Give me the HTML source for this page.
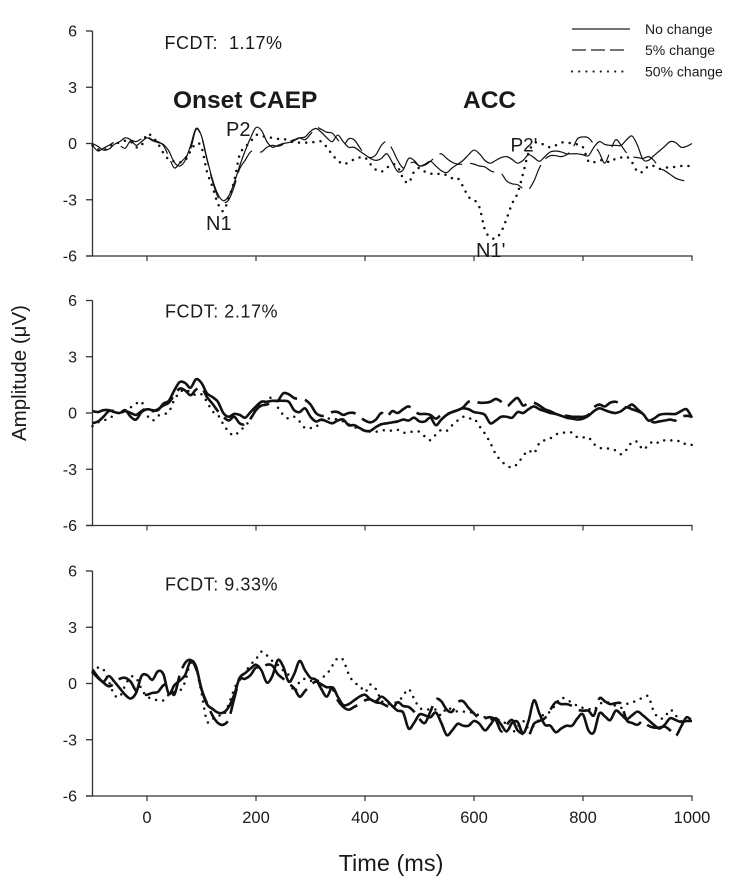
<!DOCTYPE html>
<html lang="en">
<head>
<meta charset="utf-8">
<title>FCDT evoked potentials</title>
<style>
html,body{margin:0;padding:0;background:#fff;width:732px;height:891px;overflow:hidden}
svg{display:block}
text{font-family:"Liberation Sans",Arial,sans-serif;fill:#1a1a1a}
</style>
</head>
<body>
<svg id="chart" xmlns="http://www.w3.org/2000/svg" width="732" height="891" viewBox="0 0 732 891">
  <rect x="0" y="0" width="732" height="891" fill="#fff"/>
  <g id="marks"></g>
  <text transform="translate(26,373) rotate(-90)" text-anchor="middle" font-size="20.5">Amplitude (μV)</text>
  <text x="391" y="871" text-anchor="middle" font-size="23.5">Time (ms)</text>
  <text x="164.5" y="49" font-size="18" letter-spacing="0.5">FCDT:&#160;&#160;1.17%</text>
  <text x="165" y="317.5" font-size="18" letter-spacing="0.55">FCDT: 2.17%</text>
  <text x="165" y="590.5" font-size="18" letter-spacing="0.55">FCDT: 9.33%</text>
  <text x="173" y="108" font-size="24.5" font-weight="bold">Onset CAEP</text>
  <text x="463" y="108" font-size="24.5" font-weight="bold">ACC</text>
  <text x="206" y="230" font-size="20">N1</text>
  <text x="226" y="136" font-size="20">P2</text>
  <text x="476" y="257" font-size="20">N1'</text>
  <text x="510.5" y="151.5" font-size="19">P2'</text>
  <g>
    <line x1="572" x2="630" y1="29" y2="29" stroke="#222" stroke-width="1.2"/>
    <line x1="572" x2="626" y1="50" y2="50" stroke="#222" stroke-width="1.2" stroke-dasharray="14 5"/>
    <line x1="572" x2="626" y1="71.5" y2="71.5" stroke="#222" stroke-width="2.2" stroke-linecap="round" stroke-dasharray="0 7.2"/>
    <text x="645" y="34" font-size="14">No change</text>
    <text x="645" y="55" font-size="14">5% change</text>
    <text x="645" y="76.5" font-size="14">50% change</text>
  </g>
</svg>
<script>
/* Time base: -100 to 1000 ms at 10 ms steps */
const xTickLabels = [0, 200, 400, 600, 800, 1000];
const yTickLabels = [6, 3, 0, -3, -6];
const xDomain = [-100, 1000];
const yDomain = [-6, 6];
const sampleStart = -100;
const sampleStep = 10;

/* Panel 1: FCDT 1.17% */
const p1NoChange = [0,-.15,-.35,-.3,-.05,.1,.3,.2,-.1,.1,.3,
 .15,.05,-.05,-.4,-1,-1.2,-.9,-.1,.8,.4,
 -.8,-1.9,-2.7,-3.05,-2.8,-2.1,-1.2,-.4,.3,.85,
 .7,.1,-.2,-.1,0,.05,.15,.3,.35,.65,
 .8,.6,.3,.1,.45,.1,-.2,-.2,-.4,-.6,
 -.8,-.9,-.8,-.55,-1,-1.5,-1.4,-.8,-.9,-1.2,
 -1.1,-.95,-1.2,-1.45,-1.55,-1.3,-1.1,-.9,-.6,-.35,
 -.55,-.9,-1.05,-.9,-.75,-.7,-.85,-1.05,-.9,-.6,
 -.75,-.95,-.7,-.45,-.4,-.45,-.55,-.55,-.55,-.6,
 -.65,-.2,.1,-.05,-.1,-.1,-.1,.2,.4,-.1,
 -.85,-.9,-.65,-.4,-.15,.1,.05,-.2,-.15,0];
const p1FivePercent = [-.1,-.4,-.25,-.1,.05,-.1,-.25,.15,.1,.25,.35,
 .2,.1,-.1,-.7,-1.3,-1.05,-.75,-.3,.75,.35,
 -.85,-2,-2.85,-3.15,-3,-2.3,-1.35,-.9,-.45,-.4,
 -.45,-.2,-.1,-.15,-.05,.1,.2,.3,.2,.5,
 .85,.75,.6,.55,.2,-.1,.25,.2,-.2,-.6,
 -.75,-.6,-.1,.1,-.3,-.9,-1.3,-1.1,-1,-1.2,
 -1.15,-.95,-.7,-.55,-.8,-1,-1.1,-1.1,-1.05,-1.1,
 -1.2,-1.25,-1.45,-1.55,-1.6,-2,-2.15,-2.2,-2.4,-2.45,
 -2,-1.3,-.85,-.65,-.65,-.7,-.6,-.3,.25,.35,
 .3,-.05,-.5,-1.05,-.4,.2,-.1,-.5,-.7,-.75,
 -.8,-.7,-.9,-1.3,-1.45,-1.65,-1.85,-1.95,-2,-2];
const p1FiftyPercent = [-.1,-.3,-.35,-.2,0,.05,.15,.1,-.2,-.1,.5,
 .35,0,-.5,-.85,-.95,-1,-.9,-.4,0,-.2,
 -1.5,-2.3,-3.2,-3.6,-2.9,-2,-.6,-.2,.1,.45,
 .4,.35,.3,.25,.25,.15,.05,.05,.05,.05,
 .1,.1,-.2,-.6,-.9,-1.1,-1,-.85,-.75,-.75,
 -1.1,-1.4,-1.5,-1.3,-1.1,-1.25,-1.85,-2.1,-1.5,-1.3,
 -1.5,-1.6,-1.65,-1.6,-1.7,-1.85,-1.85,-2.3,-2.85,-3,
 -3.4,-4.6,-5,-5.05,-4.7,-4,-3.2,-2.65,-1.6,-.5,
 0,.05,-.1,-.2,-.1,.05,.05,0,-.05,-.2,
 -.95,-1,-.9,-.9,-1,-.8,-.75,-.7,-1,-1.5,
 -1.5,-1.2,-1.2,-1.35,-1.3,-1.25,-1.25,-1.2,-1.2,-1.2];

/* Panel 2: FCDT 2.17% */
const p2NoChange = [.1,.05,.15,.15,.05,0,.15,-.2,-.35,.05,.2,
 .15,.15,.5,.65,1.2,1.65,1.6,1.35,1.8,1.6,
 1.05,.85,.6,0,-.2,-.05,-.1,-.25,.05,.35,
 .6,.6,.65,.65,.65,.6,.15,.05,.25,-.2,
 -.45,-.35,-.45,-.55,-.4,-.35,-.65,-.65,-.8,-.95,
 -.95,-.75,-.6,-.55,-.5,-.45,-.35,-.4,-.25,-.45,
 -.45,-.25,-.65,-.35,-.1,.05,.15,.25,.2,.05,
 0,-.1,-.55,-.4,-.2,-.2,-.25,.05,0,.2,
 .35,.2,.1,0,-.05,-.15,-.25,-.3,-.35,-.3,
 -.15,.1,.25,.15,.05,0,.1,.3,.2,.1,
 -.05,-.4,-.3,-.1,-.05,-.05,-.05,.1,.2,-.25];
const p2FivePercent = [-.55,-.45,-.2,.1,.1,0,.1,0,-.1,.1,.25,
 .1,.2,.4,.55,.95,1.3,1.2,.95,1.25,1.35,
 .85,.5,.1,-.2,-.4,-.2,-.55,-.6,-.3,.15,
 .4,.45,.6,.65,1.05,1,.8,.75,.7,.45,
 0,-.15,-.1,.05,.05,-.1,0,0,-.2,-.4,
 -.5,-.35,0,-.2,.1,0,.2,.35,.1,-.05,
 -.05,-.1,-.3,-.1,-.05,.05,.15,.3,.6,.65,
 .55,.55,.6,.75,.6,.35,.6,.8,.4,.55,
 .55,.4,.2,.1,-.05,-.15,-.15,-.2,-.2,-.2,
 -.1,.3,.45,.35,.55,.6,.45,.3,.45,.2,
 -.05,-.35,-.5,-.45,-.4,-.35,-.4,-.2,-.15,-.2];
const p2FiftyPercent = [-.7,-.5,-.4,-.3,-.1,.05,.15,.3,.5,.6,-.1,
 -.4,-.15,-.05,.05,.7,1.1,1.25,1.1,.95,1,
 .6,.1,-.1,-.6,-1,-1.2,-.95,-.7,-.3,.25,
 .55,.6,.85,.3,-.1,-.3,-.2,-.45,-.8,-.8,
 -.75,-.4,-.3,-.3,-.35,-.45,-.6,-.75,-.85,-.95,
 -1,-1,-.95,-.9,-.95,-.9,-1.05,-1,-1,-1,
 -1.25,-1.45,-1.15,-.9,-.95,-.65,-.4,-.2,-.3,-.3,
 -.7,-1.1,-1.6,-2.2,-2.55,-2.8,-2.9,-2.7,-2.3,-2,
 -2.15,-1.6,-1.45,-1.35,-1.15,-1.05,-1.05,-1.05,-1.3,-1.3,
 -1.3,-1.65,-1.85,-1.9,-1.9,-2,-2.2,-1.95,-1.55,-1.55,
 -1.95,-1.7,-1.5,-1.6,-1.45,-1.45,-1.5,-1.5,-1.7,-1.7];

/* Panel 3: FCDT 9.33% */
const p3NoChange = [.75,.35,.1,.4,.1,-.25,-.6,-.8,-.5,.4,.45,
 .2,.65,.5,-.55,-.1,.15,.45,1.2,.9,-.3,
 -1.1,-1.35,-1.55,-1.55,-1.25,-.6,.3,.55,.8,1,
 .7,.05,.4,1.25,.9,.1,.5,1.2,.7,.3,
 .2,-.3,-.7,-.2,-.7,-1.15,-1.1,-.9,-.7,-.6,
 -.85,-.95,-.7,-.9,-1.2,-1.45,-1.55,-2.4,-2.1,-1.65,
 -1.7,-1.8,-1.55,-2.1,-2.75,-2.5,-2.15,-2.25,-2.25,-2,
 -2.15,-2.5,-2.2,-1.85,-2.2,-2.55,-2.1,-2.05,-2.65,-2,
 -.9,-1.6,-2.2,-2.25,-2.6,-2.4,-2.25,-2.25,-1.85,-1.65,
 -2.5,-2.6,-1.6,-1.75,-1.95,-1.45,-1.65,-1.9,-1.7,-1.5,
 -1.7,-1.95,-2.2,-2.4,-2.2,-1.85,-1.95,-2.05,-2,-2];
const p3FivePercent = [.6,.3,.05,-.15,0,.25,.3,.1,-.4,-.55,-.6,
 -.5,-.45,-.1,-.05,-.6,.45,1.1,1.25,.8,-.3,
 -1.05,-1.7,-2.1,-2.2,-1.9,-.8,.2,.25,.45,.85,
 .8,1,.95,.5,.25,0,-.25,-.7,-.4,-.1,
 .1,-.05,-.2,-.25,-.9,-1.25,-1.4,-1.25,-1.1,-.9,
 -.85,-1,-1.05,-1.2,-1.35,-1,-1.2,-1.25,-1.5,-1.9,
 -2.1,-1.5,-.85,-.95,-1.4,-1.5,-1,-.95,-1.3,-1.6,
 -1.85,-1.85,-1.8,-1.95,-2.55,-2.2,-1.95,-2.5,-2.7,-2.8,
 -2.15,-2,-1.85,-1.4,-1,-1.1,-1.1,-1.2,-1.4,-1.45,
 -1.45,-1.7,-.8,-.95,-1.1,-1.05,-1.1,-1.95,-2.1,-2.2,
 -2,-2.25,-2.35,-2.35,-2.3,-2.5,-2.8,-2.3,-1.8,-2];
const p3FiftyPercent = [.6,.85,.75,.1,-.6,-.7,-.1,.35,.3,-.3,-.7,
 -.8,-.9,-.9,-.6,-.45,-.4,.1,1.1,.8,-.5,
 -2,-1.9,-1.7,-1.7,-1.1,-.3,.3,.6,1,1.3,
 1.7,1.5,1.2,1,.7,.45,-.45,.1,.25,.15,
 .1,.3,.5,.95,1.35,1.25,.5,.05,-.1,-.45,
 -.05,-.3,-.9,-1.1,-1,-1,-.65,-.3,-.8,-1.3,
 -1.35,-1.4,-1.4,-1.7,-1.3,-1.4,-1.5,-1.5,-1.5,-1.6,
 -1.7,-1.8,-1.9,-1.95,-1.95,-2.2,-2.6,-2.3,-2,-2.4,
 -2.25,-1.9,-1.6,-1.5,-1.1,-.75,-.9,-1,-1.2,-1.3,
 -1.35,-1.4,-1.1,-1,-1.05,-1.2,-1.3,-1.1,-1,-.9,
 -.75,-.7,-1.5,-1.85,-1.8,-1.4,-1.7,-2,-2,-2];

const NS = 'http://www.w3.org/2000/svg';
const root = document.getElementById('marks');
const plotLeft = 92.5, plotRight = 692;

function xScale(t) {
  return plotLeft + (t - xDomain[0]) / (xDomain[1] - xDomain[0]) * (plotRight - plotLeft);
}
function yScaleFor(top, bottom) {
  return function (v) { return top + (yDomain[1] - v) / (yDomain[1] - yDomain[0]) * (bottom - top); };
}
function make(tag, attrs, parent) {
  const el = document.createElementNS(NS, tag);
  for (const k in attrs) el.setAttribute(k, attrs[k]);
  parent.appendChild(el);
  return el;
}
function curvePath(values, yScale) {
  const pts = values.map(function (v, i) { return [xScale(sampleStart + i * sampleStep), yScale(v)]; });
  let d = 'M' + pts[0][0].toFixed(2) + ' ' + pts[0][1].toFixed(2);
  for (let i = 0; i < pts.length - 1; i++) {
    const p0 = pts[Math.max(i - 1, 0)], p1 = pts[i], p2 = pts[i + 1], p3 = pts[Math.min(i + 2, pts.length - 1)];
    const c1x = p1[0] + (p2[0] - p0[0]) / 6, c1y = p1[1] + (p2[1] - p0[1]) / 6;
    const c2x = p2[0] - (p3[0] - p1[0]) / 6, c2y = p2[1] - (p3[1] - p1[1]) / 6;
    d += 'C' + c1x.toFixed(2) + ' ' + c1y.toFixed(2) + ' ' + c2x.toFixed(2) + ' ' + c2y.toFixed(2) + ' ' + p2[0].toFixed(2) + ' ' + p2[1].toFixed(2);
  }
  return d;
}

function drawPanel(idx, top, bottom, series, width, showXLabels) {
  const yScale = yScaleFor(top, bottom);
  const g = make('g', {}, root);
  
  

  const yAxis = make('line', { x1: plotLeft, x2: plotLeft, y1: top, y2: bottom, stroke: '#333', 'stroke-width': 1.3 }, g);
  
  

  const xAxis = make('line', { x1: plotLeft - 6.5, x2: plotRight + 0.6, y1: bottom, y2: bottom, stroke: '#333', 'stroke-width': 1.3 }, g);
  
  

  yTickLabels.forEach(function (v) {
    const y = yScale(v);
    const tick = make('line', { x1: plotLeft - 6.5, x2: plotLeft, y1: y, y2: y, stroke: '#333', 'stroke-width': 1.3 }, g);
    
    
    const label = make('text', { x: 77, y: y + 5.5, 'text-anchor': 'end', 'font-size': 16 }, g);
    label.textContent = String(v);
    
    
  });

  xTickLabels.forEach(function (v) {
    const x = xScale(v);
    const tick = make('line', { x1: x, x2: x, y1: bottom, y2: bottom + 5, stroke: '#333', 'stroke-width': 1.2 }, g);
    
    
    if (showXLabels) {
      const label = make('text', { x: x, y: bottom + 27, 'text-anchor': 'middle', 'font-size': 16.5 }, g);
      label.textContent = String(v);
      
      
    }
  });

  const solid = make('path', { d: curvePath(series[0], yScale), fill: 'none', stroke: '#111', 'stroke-width': width, 'stroke-linejoin': 'round' }, g);
  
  

  const dashed = make('path', { d: curvePath(series[1], yScale), fill: 'none', stroke: '#111', 'stroke-width': width, 'stroke-dasharray': '26 8', 'stroke-linejoin': 'round' }, g);
  
  

  const dotted = make('path', { d: curvePath(series[2], yScale), fill: 'none', stroke: '#111', 'stroke-width': 2.5, 'stroke-linecap': 'round', 'stroke-dasharray': '0 7.2' }, g);
  
  
}

drawPanel(1, 31, 256, [p1NoChange, p1FivePercent, p1FiftyPercent], 1.2, false);
drawPanel(2, 300.5, 525.5, [p2NoChange, p2FivePercent, p2FiftyPercent], 2.6, false);
drawPanel(3, 571, 796, [p3NoChange, p3FivePercent, p3FiftyPercent], 2.6, true);
</script>
</body>
</html>
